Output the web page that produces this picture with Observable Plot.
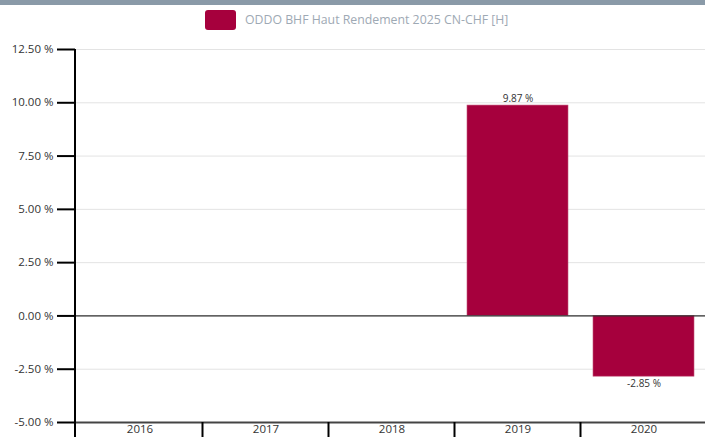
<!DOCTYPE html>
<html><head><meta charset="utf-8">
<script src="https://cdn.jsdelivr.net/npm/d3@7"></script>
<script src="https://cdn.jsdelivr.net/npm/@observablehq/plot@0.6"></script>
<style>
html,body{margin:0;padding:0;background:#fff;overflow:hidden;width:705px;height:437px}
#topbar{height:5px;background:#8a9aa8}
#legend{height:32px;position:relative}
#legend .sw{position:absolute;left:205px;top:5px;width:31px;height:20px;background:#a6003d;border-radius:3px}
#legend .lbl{position:absolute;left:245px;top:5px;font-family:"Open Sans",sans-serif;font-size:12.3px;color:#9ea9b4;line-height:20px;white-space:nowrap}
#chart{width:705px;overflow:hidden}
#chart svg{display:block;max-width:none !important}
</style></head>
<body>
<div id="topbar"></div>
<div id="legend"><div class="sw"></div><div class="lbl" id="lbl"></div></div>
<div id="chart"></div>
<script>
const seriesName = "ODDO BHF Haut Rendement 2025 CN-CHF [H]";
const years = ["2016","2017","2018","2019","2020"];
const values = [null,null,null,9.87,-2.85];
const yTicks = [-5,-2.5,0,2.5,5,7.5,10,12.5];
const barColor = "#a6003d";

document.getElementById("lbl").textContent = seriesName;
const data = years.map((year,i)=>({year, value: values[i]})).filter(d=>d.value!=null);
const fmt = v => v.toFixed(2) + " %";

const frameLines = (index, scales, values, dims) => {
  const x = scales.x, y = scales.y;
  const g = d3.create("svg:g").attr("stroke","#000").attr("stroke-width",2);
  const gap = (x.step() - x.bandwidth())/2;
  g.append("line").attr("x1",dims.marginLeft).attr("x2",dims.marginLeft)
    .attr("y1",y(yTicks[yTicks.length-1])).attr("y2",dims.height);
  years.slice(1).forEach(d=>{
    const xx = x(d) - gap;
    g.append("line").attr("x1",xx).attr("x2",xx).attr("y1",y(yTicks[0])).attr("y2",dims.height);
  });
  return g.node();
};

const chart = Plot.plot({
  width: 708, height: 400,
  marginLeft: 75, marginRight: 0, marginTop: 12, marginBottom: 15,
  style: {fontFamily: "'Open Sans', sans-serif", fontSize: "11px", color: "#333", background: "#fff"},
  x: {domain: years, paddingInner: 0.2, paddingOuter: 0.1, label: null},
  y: {domain: [-5, 12.5], label: null},
  marks: [
    Plot.gridY(yTicks, {stroke: "#e3e3e3", strokeOpacity: 1}),
    Plot.barY(data, {x: "year", y: "value", fill: barColor, stroke: "#c4557b", strokeWidth: 0.6}),
    Plot.ruleY([0], {stroke: "#333", strokeWidth: 1.2}),
    Plot.ruleY([-5], {stroke: "#444", strokeWidth: 2}),
    Plot.text(data.filter(d=>d.value>=0), {x: "year", y: "value", text: d=>fmt(d.value), dy: -7, fill: "#333", fontSize: 10}),
    Plot.text(data.filter(d=>d.value<0), {x: "year", y: "value", text: d=>fmt(d.value), dy: 7, fill: "#333", fontSize: 10}),
    Plot.axisY(yTicks, {tickSize: 18, tickPadding: 4, stroke: "#000", strokeWidth: 2, fill: "#333", tickFormat: fmt, fontSize: 11.5}),
    Plot.axisX({tickSize: 0, tickPadding: 2.5, fill: "#333", fontSize: 11.5}),
    frameLines
  ]
});
document.getElementById("chart").appendChild(chart);
</script>
</body></html>
